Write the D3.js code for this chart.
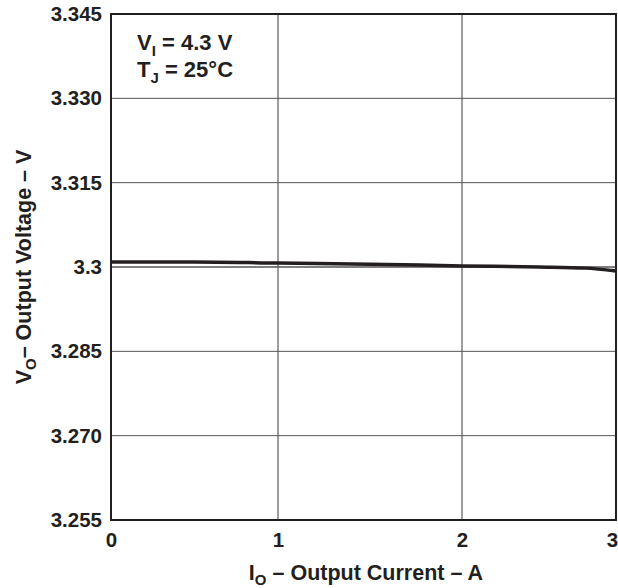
<!DOCTYPE html>
<html>
<head>
<meta charset="utf-8">
<script src="https://cdn.jsdelivr.net/npm/d3@7"></script>
<style>
  body { margin: 0; background: #fff; }
  text { font-family: "Liberation Sans", Arial, sans-serif; font-weight: bold; fill: #231f20; }
</style>
</head>
<body>
<script>
// data
const current = [0, 0.5, 1, 1.5, 2, 2.5, 2.8, 3];
const voltage = [3.3009, 3.3009, 3.3007, 3.3005, 3.3002, 3.3000, 3.2998, 3.2993];
const xTicks = [0, 1, 2, 3];
const yTicks = [3.345, 3.330, 3.315, 3.3, 3.285, 3.270, 3.255];
const yTickLabels = ['3.345', '3.330', '3.315', '3.3', '3.285', '3.270', '3.255'];

let width = 618;
let height = 588;
let margin = { top: 14, right: 2, bottom: 68, left: 111 };

// x grid in the original is not evenly spaced, so map piecewise
let x = d3.scaleLinear()
  .domain([0, 1, 2, 3])
  .range([111, 278, 462, 616]);
let y = d3.scaleLinear()
  .domain([3.255, 3.345])
  .range([height - margin.bottom, margin.top]);

const svg = d3.select('body')
  .append('svg')
  .attr('width', width)
  .attr('height', height);

// grid
svg.append('g')
  .selectAll('line')
  .data(xTicks.slice(1, -1))
  .enter().append('line')
  .attr('x1', d => x(d)).attr('x2', d => x(d))
  .attr('y1', y(3.345)).attr('y2', y(3.255))
  .attr('stroke', '#3a3a3a').attr('stroke-width', 1);
svg.append('g')
  .selectAll('line')
  .data(yTicks.slice(1, -1))
  .enter().append('line')
  .attr('x1', x(0)).attr('x2', x(3))
  .attr('y1', d => y(d)).attr('y2', d => y(d))
  .attr('stroke', '#555').attr('stroke-width', d => d === 3.3 ? 1.6 : 1);

// axes
const yAxis = svg.append('g')
  .attr('transform', `translate(${x(0)},0)`)
  .call(d3.axisLeft(y).tickValues(yTicks).tickSize(0).tickPadding(9)
    .tickFormat((d, i) => yTickLabels[i]));
yAxis.select('.domain').remove();
yAxis.selectAll('text')
  .style('font-size', '20.5px').style('font-family', '"Liberation Sans", Arial, sans-serif')
  .style('font-weight', 'bold').attr('fill', '#231f20');

const xAxis = svg.append('g')
  .attr('transform', `translate(0,${y(3.255)})`)
  .call(d3.axisBottom(x).tickValues(xTicks).tickSize(0).tickPadding(12).tickFormat(d3.format('d')));
xAxis.select('.domain').remove();
xAxis.selectAll('text')
  .style('font-size', '20.5px').style('font-family', '"Liberation Sans", Arial, sans-serif')
  .style('font-weight', 'bold').attr('fill', '#231f20')
  .attr('dx', d => d === 3 ? -4 : 0);

// frame
svg.append('rect')
  .attr('x', x(0)).attr('y', y(3.345))
  .attr('width', x(3) - x(0)).attr('height', y(3.255) - y(3.345))
  .attr('fill', 'none').attr('stroke', '#231f20').attr('stroke-width', 2);

// curve
const line = d3.line()
  .x((d, i) => x(current[i]))
  .y(d => y(d))
  .curve(d3.curveMonotoneX);
svg.append('path')
  .datum(voltage)
  .attr('d', line)
  .attr('fill', 'none')
  .attr('stroke', '#231f20')
  .attr('stroke-width', 3.5);

// conditions
const note = svg.append('g').style('font-size', '22px');
const t1 = note.append('text').attr('x', 137).attr('y', 50);
t1.append('tspan').text('V');
t1.append('tspan').text('I').style('font-size', '15px').attr('dy', 6);
t1.append('tspan').text(' = 4.3 V').attr('dy', -6);
const t2 = note.append('text').attr('x', 137).attr('y', 77);
t2.append('tspan').text('T');
t2.append('tspan').text('J').style('font-size', '15px').attr('dy', 6);
t2.append('tspan').text(' = 25\u00B0C').attr('dy', -6);

// axis titles
const xt = svg.append('text')
  .attr('x', 366).attr('y', 580)
  .attr('text-anchor', 'middle')
  .style('font-size', '21.5px');
xt.append('tspan').text('I');
xt.append('tspan').text('O').style('font-size', '15px').attr('dy', 5);
xt.append('tspan').text(' \u2013 Output Current \u2013 A').attr('dy', -5);

const yt = svg.append('text')
  .attr('transform', 'translate(31,267) rotate(-90)')
  .attr('text-anchor', 'middle')
  .style('font-size', '21.5px');
yt.append('tspan').text('V');
yt.append('tspan').text('O').style('font-size', '15px').attr('dy', 5);
yt.append('tspan').text('\u2013 Output Voltage \u2013 V').attr('dy', -5);
</script>
</body>
</html>
